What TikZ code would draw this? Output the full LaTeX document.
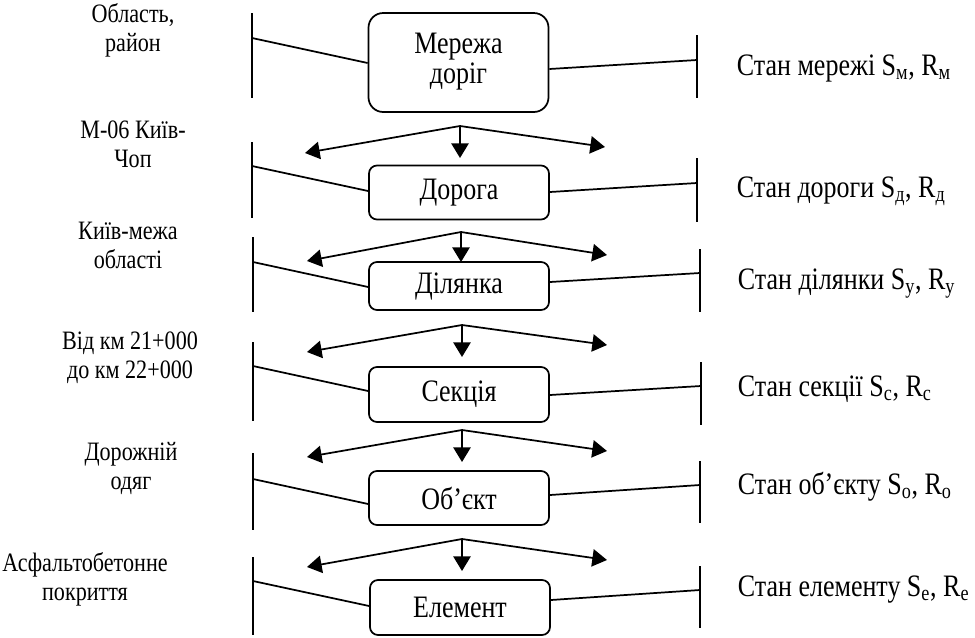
\documentclass[tikz,border=0pt]{standalone}
\usepackage{graphicx}
\usepackage{fontspec}
\setmainfont{Liberation Serif}
\usetikzlibrary{arrows.meta}
\newcommand{\vstr}[1]{\scalebox{1}[1.2]{#1}}
\newcommand{\twol}[2]{\vstr{\begin{tabular}{@{}c@{}}#1\\#2\end{tabular}}}
\begin{document}
\begin{tikzpicture}[x=0.75pt,y=-0.75pt,
  font=\fontsize{19.5}{18.75}\selectfont,
  line width=1.3pt,
  lvl/.style={draw, line width=1.3pt, inner sep=0pt, align=center,
    minimum width=135pt, minimum height=40.5pt, rounded corners=6pt},
  lbl/.style={inner sep=0pt, font=\fontsize{16.6}{18.1}\selectfont},
  st/.style={anchor=base west, inner sep=0pt},
  arr/.style={-{Triangle[length=11pt,width=13pt]}, line width=1.3pt}]
\useasboundingbox (0,0) rectangle (975,637);

% boxes
\node[lvl, minimum height=74.25pt, rounded corners=11pt] (b1) at (458.5,62.5) {\twol{Мережа}{доріг}};
\node[lvl] (b2) at (459,192.5) {\vstr{Дорога}};
\node[lvl, minimum height=36pt] (b3) at (459,286) {\vstr{Ділянка}};
\node[lvl, minimum height=41.25pt] (b4) at (459,394.5) {\vstr{Секція}};
\node[lvl] (b5) at (459,498) {\vstr{Об’єкт}};
\node[lvl, minimum height=41.25pt] (b6) at (460,607.5) {\vstr{Елемент}};

% left labels
\node[lbl] (l1) at (133,31.5) {\twol{Область,}{район}};
\node[lbl] (l2) at (133,147.5) {\twol{М-06 Київ-}{Чоп}};
\node[lbl] (l3) at (128,248) {\twol{Київ-межа}{області}};
\node[lbl] (l4) at (130,358) {\twol{Від км 21+000}{до км 22+000}};
\node[lbl] (l5) at (131,469) {\twol{Дорожній}{одяг}};
\node[lbl] (l6) at (85,580) {\twol{Асфальтобетонне}{покриття}};

% right labels
\node[st] (r1) at (736,75) {\vstr{Стан мережі S\textsubscript{м}, R\textsubscript{м}}};
\node[st] (r2) at (736,197) {\vstr{Стан дороги S\textsubscript{д}, R\textsubscript{д}}};
\node[st] (r3) at (737,289) {\vstr{Стан ділянки S\textsubscript{у}, R\textsubscript{у}}};
\node[st] (r4) at (737,396) {\vstr{Стан секції S\textsubscript{с}, R\textsubscript{с}}};
\node[st] (r5) at (737,494) {\vstr{Стан об’єкту S\textsubscript{о}, R\textsubscript{о}}};
\node[st] (r6) at (737,596) {\vstr{Стан елементу S\textsubscript{е}, R\textsubscript{е}}};

% left bars
\coordinate (lt1) at (252,13);  \coordinate (lb1) at (252,98);  \coordinate (lm1) at (252,38);
\coordinate (lt2) at (252,142); \coordinate (lb2) at (252,218); \coordinate (lm2) at (252,166);
\coordinate (lt3) at (253,237); \coordinate (lb3) at (253,312); \coordinate (lm3) at (253,262);
\coordinate (lt4) at (253,342); \coordinate (lb4) at (253,421); \coordinate (lm4) at (253,366);
\coordinate (lt5) at (253,453); \coordinate (lb5) at (253,530); \coordinate (lm5) at (253,479);
\coordinate (lt6) at (253,557); \coordinate (lb6) at (253,635); \coordinate (lm6) at (253,581);
% right bars
\coordinate (rt1) at (697,35);  \coordinate (rb1) at (697,98);  \coordinate (rm1) at (697,60);
\coordinate (rt2) at (697,158); \coordinate (rb2) at (697,222); \coordinate (rm2) at (697,183);
\coordinate (rt3) at (700,249); \coordinate (rb3) at (700,312); \coordinate (rm3) at (700,273);
\coordinate (rt4) at (701,362); \coordinate (rb4) at (701,425); \coordinate (rm4) at (701,386);
\coordinate (rt5) at (700,461); \coordinate (rb5) at (700,523); \coordinate (rm5) at (700,485);
\coordinate (rt6) at (700,566); \coordinate (rb6) at (700,628); \coordinate (rm6) at (700,590);

\foreach \i in {1,...,6}{
  \draw (lt\i) -- (lb\i);
  \draw (rt\i) -- (rb\i);
}
\draw (lm1) -- (b1.west |- 0,63);
\draw (lm2) -- (b2.west |- 0,191);
\draw (lm3) -- (b3.west |- 0,287);
\draw (lm4) -- (b4.west |- 0,391);
\draw (lm5) -- (b5.west |- 0,504);
\draw (lm6) -- (b6.west |- 0,606);
\draw (b1.east |- 0,69) -- (rm1);
\draw (b2.east |- 0,192) -- (rm2);
\draw (b3.east |- 0,282) -- (rm3);
\draw (b4.east |- 0,395) -- (rm4);
\draw (b5.east |- 0,495) -- (rm5);
\draw (b6.east |- 0,600) -- (rm6);

% forks
\coordinate (f1) at (460,126); \coordinate (fd1) at (460,158); \coordinate (fl1) at (305,153); \coordinate (fr1) at (605,147);
\coordinate (f2) at (461,232); \coordinate (fd2) at (461,262); \coordinate (fl2) at (307,261); \coordinate (fr2) at (607,255);
\coordinate (f3) at (462,325); \coordinate (fd3) at (462,357); \coordinate (fl3) at (307,352); \coordinate (fr3) at (607,345);
\coordinate (f4) at (462,430); \coordinate (fd4) at (462,462); \coordinate (fl4) at (307,457); \coordinate (fr4) at (607,451);
\coordinate (f5) at (462,539); \coordinate (fd5) at (462,571); \coordinate (fl5) at (307,567); \coordinate (fr5) at (607,560);
\foreach \i in {1,...,5}{
  \draw[arr] (f\i) -- (fd\i);
  \draw[arr] (f\i) -- (fl\i);
  \draw[arr] (f\i) -- (fr\i);
}
\end{tikzpicture}
\end{document}
